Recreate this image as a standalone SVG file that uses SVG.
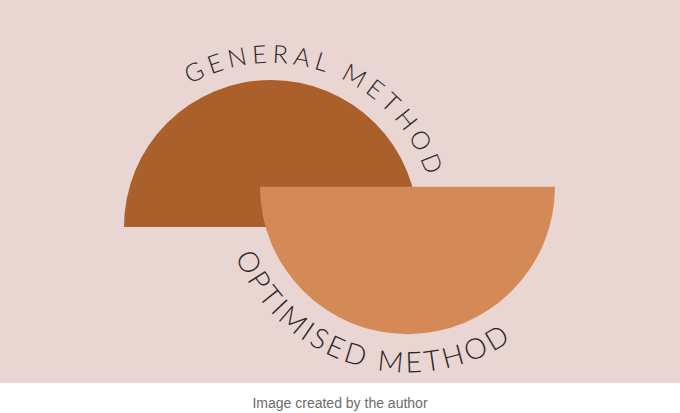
<svg xmlns="http://www.w3.org/2000/svg" width="680" height="413" viewBox="0 0 680 413">
  <defs>
    <style>
      .arc-label { font-family: "Lato", "Liberation Sans", sans-serif; font-weight: 300; fill: #2a2624; }
      .caption { font-family: "Liberation Sans", "Noto Sans", sans-serif; font-size: 14px; fill: #6b6b6b; }
    </style>
    <path id="topArc" d="M190.0,84.4 A164,164 0 0 1 427.0,176.3"/>
    <path id="bottomArc" d="M235.4,256.2 A185.6,185.6 0 0 0 511.3,340.6"/>
  </defs>
  <rect x="0" y="0" width="680" height="413" fill="#ffffff"/>
  <rect x="0" y="0" width="680" height="383" fill="#e9d6d3"/>

  <g id="general-half">
    <path d="M124,227 A147,147 0 0 1 418,227 Z" fill="#ab5f2b"/>
  </g>
  <g id="optimised-half">
    <path d="M260,186.7 A147.5,147.5 0 0 0 555,186.7 Z" fill="#d48a57"/>
  </g>

  <g id="general-label">
    <text class="arc-label" font-size="25"><textPath href="#topArc" textLength="290" lengthAdjust="spacing">GENERAL METHOD</textPath></text>
  </g>
  <g id="optimised-label">
    <text class="arc-label" font-size="28.5"><textPath href="#bottomArc" textLength="330" lengthAdjust="spacing">OPTIMISED METHOD</textPath></text>
  </g>

  <g id="caption">
    <text class="caption" x="340" y="408" text-anchor="middle">Image created by the author</text>
  </g>
</svg>
